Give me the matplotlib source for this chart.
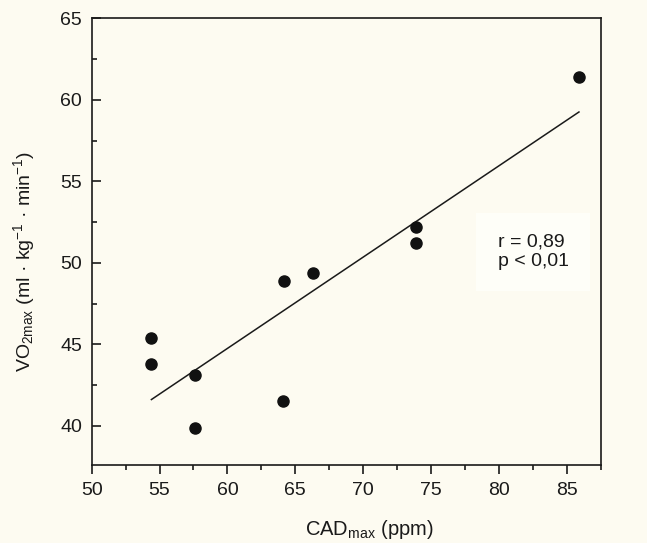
import matplotlib
matplotlib.use("Agg")
import matplotlib.pyplot as plt
from matplotlib.ticker import MultipleLocator
import numpy as np

# Data
cad_max = [54.4, 54.4, 57.6, 57.6, 64.1, 64.2, 66.3, 73.9, 73.9, 85.9]
vo2_max = [45.4, 43.8, 43.1, 39.9, 41.5, 48.9, 49.4, 52.2, 51.2, 61.4]
x_ticks = [50, 55, 60, 65, 70, 75, 80, 85]
y_ticks = [40, 45, 50, 55, 60, 65]
stats_text = "r = 0,89\np < 0,01"

plt.rcParams['font.family'] = ['Liberation Sans', 'DejaVu Sans']
plt.rcParams['mathtext.fontset'] = 'custom'
plt.rcParams['mathtext.rm'] = 'Liberation Sans'
plt.rcParams['mathtext.it'] = 'Liberation Sans:italic'
plt.rcParams['mathtext.bf'] = 'Liberation Sans:bold'

bg = '#fdfbf1'
fig = plt.figure(figsize=(6.47, 5.43), dpi=100, facecolor=bg)
ax = fig.add_axes([0.1417, 0.1436, 0.9284 - 0.1417, 0.9663 - 0.1436])
ax.set_facecolor(bg)

x = np.array(cad_max)
y = np.array(vo2_max)
slope, intercept = np.polyfit(x, y, 1)
xl = np.array([x.min(), x.max()])
ax.plot(xl, slope * xl + intercept, color='#1a1a1a', lw=1.1, zorder=2)
ax.plot(x, y, 'o', color='#111111', markersize=8, zorder=3)

ax.set_xlim(50, 87.5)
ax.set_ylim(37.6, 65)
ax.set_xticks(x_ticks)
ax.set_yticks(y_ticks)
ax.xaxis.set_minor_locator(MultipleLocator(2.5))
ax.yaxis.set_minor_locator(MultipleLocator(2.5))

for s in ax.spines.values():
    s.set_linewidth(1.2)
    s.set_color('#1a1a1a')

ax.tick_params(axis='x', which='major', direction='out', length=6.5, width=1.2,
               color='#1a1a1a', labelsize=14, pad=6, top=False, labelcolor='#1a1a1a')
ax.tick_params(axis='x', which='minor', direction='out', length=3.5, width=1.2,
               color='#1a1a1a', top=False)
ax.tick_params(axis='y', which='major', direction='in', length=6.5, width=1.2,
               color='#1a1a1a', labelsize=14, pad=7, right=False, labelcolor='#1a1a1a')
ax.tick_params(axis='y', which='minor', direction='in', length=3.5, width=1.2,
               color='#1a1a1a', right=False)

ax.set_xlabel(r'CAD$_{\mathrm{max}}$ (ppm)', fontsize=14.5, color='#1a1a1a')
ax.xaxis.set_label_coords(0.545, -0.118)
ax.set_ylabel(r'VO$_{\mathrm{2max}}$ (ml · kg$^{\mathrm{-1}}$ · min$^{\mathrm{-1}}$)',
              fontsize=14, color='#1a1a1a')
ax.yaxis.set_label_coords(-0.108, 0.456)

ax.text(0.798, 0.477, stats_text, transform=ax.transAxes, fontsize=14,
        color='#1a1a1a', va='center', ha='left', linespacing=1.15,
        bbox=dict(boxstyle='square,pad=1.1', facecolor='#fefef8', edgecolor='none'))

fig.savefig('out.png', dpi=100, facecolor=bg)
